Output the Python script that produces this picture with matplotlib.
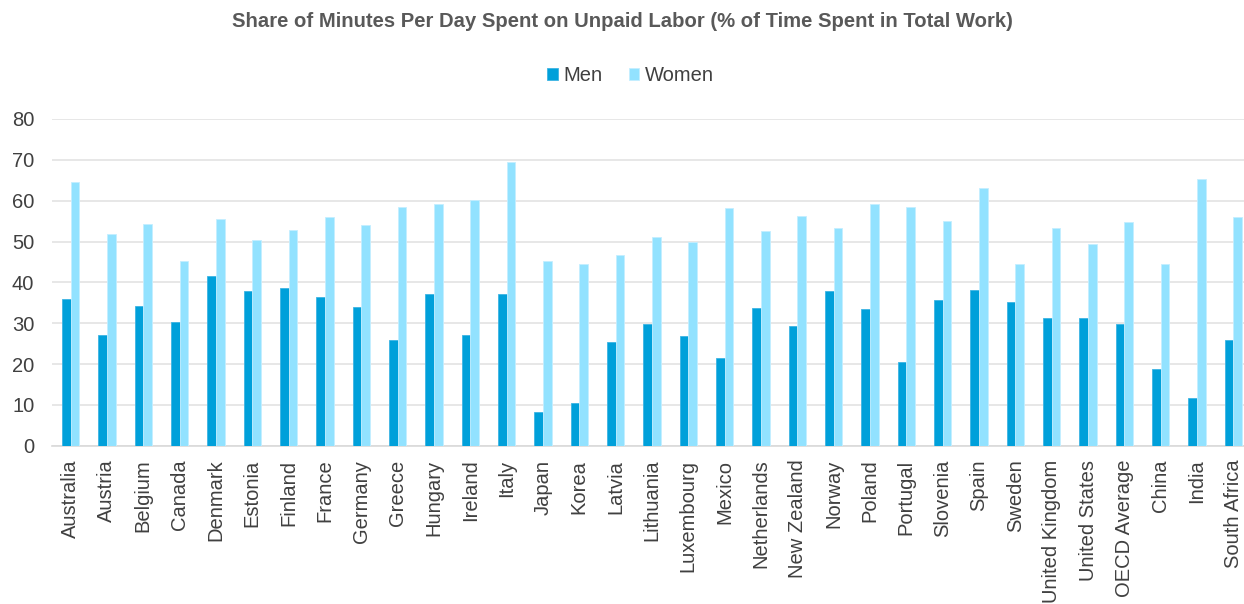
import matplotlib
matplotlib.use("Agg")
import matplotlib.pyplot as plt
import numpy as np

countries = ["Australia", "Austria", "Belgium", "Canada", "Denmark", "Estonia",
             "Finland", "France", "Germany", "Greece", "Hungary", "Ireland",
             "Italy", "Japan", "Korea", "Latvia", "Lithuania", "Luxembourg",
             "Mexico", "Netherlands", "New Zealand", "Norway", "Poland",
             "Portugal", "Slovenia", "Spain", "Sweden", "United Kingdom",
             "United States", "OECD Average", "China", "India", "South Africa"]

men = [35.9, 27.1, 34.3, 30.2, 41.6, 37.8, 38.7, 36.5, 33.9, 25.9, 37.1, 27.1,
       37.1, 8.2, 10.4, 25.5, 29.9, 26.8, 21.5, 33.7, 29.3, 37.8, 33.4, 20.5,
       35.6, 38.1, 35.2, 31.2, 31.2, 29.9, 18.9, 11.7, 25.9]

women = [64.5, 51.9, 54.4, 45.3, 55.4, 50.3, 52.9, 56.0, 54.1, 58.5, 59.1, 60.1,
         69.5, 45.3, 44.4, 46.6, 51.0, 50.0, 58.2, 52.5, 56.3, 53.2, 59.1, 58.5,
         55.0, 63.2, 44.4, 53.4, 49.4, 54.7, 44.4, 65.4, 56.0]

y_ticks = [0, 10, 20, 30, 40, 50, 60, 70, 80]

plt.rcParams['font.family'] = ['Liberation Sans', 'DejaVu Sans']

fig = plt.figure(figsize=(12.44, 6.04), dpi=100)
ax = fig.add_axes([0.0421, 0.262, 0.964, 0.541])

x = np.arange(len(countries))
w = 0.24
men_color = "#00A0DA"
women_color = "#92E2FF"
ax.bar(x - w / 2, men, width=w, color=men_color, edgecolor="#3DB4E3",
       linewidth=0.6, label="Men", zorder=3)
ax.bar(x + w / 2, women, width=w, color=women_color, edgecolor="#C4EEFF",
       linewidth=0.6, label="Women", zorder=3)

ax.set_xlim(-0.5, len(countries) - 0.5)
ax.set_ylim(0, 80)
ax.set_yticks(y_ticks)
ax.set_xticks(x)
ax.set_xticklabels(countries, rotation=90, fontsize=14.5, color="#404040")
ax.tick_params(axis="y", labelsize=14.5, colors="#404040", length=0, pad=13)
ax.tick_params(axis="x", length=0, pad=10)
ax.yaxis.grid(True, color="#E3E3E3", linewidth=1.2, zorder=0)
for s in ["top", "right", "left"]:
    ax.spines[s].set_visible(False)
ax.spines["bottom"].set_color("#D9D9D9")
ax.spines["bottom"].set_linewidth(1.2)

fig.text(0.5, 0.965, "Share of Minutes Per Day Spent on Unpaid Labor (% of Time Spent in Total Work)",
         ha="center", va="center", fontsize=14.6, fontweight="bold", color="#595959")

fig.legend(loc="center", bbox_to_anchor=(0.507, 0.875), ncol=2, frameon=False,
           fontsize=14.5, handlelength=0.5, handleheight=0.5, handletextpad=0.3,
           columnspacing=1.3, labelcolor="#404040")

fig.savefig("out.png", dpi=100)
